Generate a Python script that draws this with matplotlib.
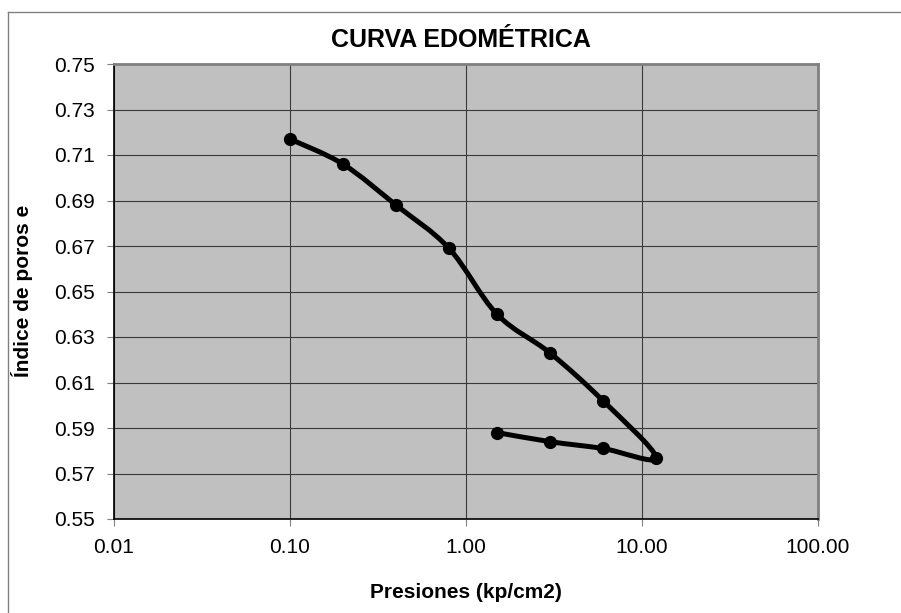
import matplotlib
matplotlib.use('Agg')
import matplotlib.pyplot as plt
from matplotlib.path import Path
from matplotlib.patches import PathPatch
from matplotlib.lines import Line2D
from matplotlib.ticker import FixedLocator, FuncFormatter
import numpy as np

# ensayo edometrico: carga y descarga
presiones = [0.1, 0.2, 0.4, 0.8, 1.5, 3.0, 6.0, 12.0, 6.0, 3.0, 1.5]
indice_poros = [0.717, 0.706, 0.688, 0.669, 0.640, 0.623, 0.602, 0.577, 0.581, 0.584, 0.588]

x_ticks = [0.01, 0.1, 1, 10, 100]
y_ticks = [0.55, 0.57, 0.59, 0.61, 0.63, 0.65, 0.67, 0.69, 0.71, 0.73, 0.75]

plt.rcParams['font.family'] = ['Liberation Sans', 'DejaVu Sans']


def smooth_path(xs, ys):
    # Excel-like smoothed line: cubic Bezier segments (Catmull-Rom), built in log-x space
    lx = np.log10(xs)
    ys = np.asarray(ys, dtype=float)
    n = len(lx)
    verts = [(xs[0], ys[0])]
    codes = [Path.MOVETO]
    for i in range(n - 1):
        p0 = (lx[max(i - 1, 0)], ys[max(i - 1, 0)])
        p1 = (lx[i], ys[i])
        p2 = (lx[i + 1], ys[i + 1])
        p3 = (lx[min(i + 2, n - 1)], ys[min(i + 2, n - 1)])
        c1 = (p1[0] + (p2[0] - p0[0]) / 6, p1[1] + (p2[1] - p0[1]) / 6)
        c2 = (p2[0] - (p3[0] - p1[0]) / 6, p2[1] - (p3[1] - p1[1]) / 6)
        for c in (c1, c2, p2):
            verts.append((10 ** c[0], c[1]))
            codes.append(Path.CURVE4)
    return Path(verts, codes)


fig = plt.figure(figsize=(9.01, 6.13), dpi=100)
ax = fig.add_axes([114 / 901, 1 - 519 / 613, (818 - 114) / 901, (519 - 64) / 613])
ax.set_facecolor('#c0c0c0')

ax.set_xscale('log')
ax.set_xlim(0.01, 100)
ax.set_ylim(0.55, 0.75)

ax.add_patch(PathPatch(smooth_path(presiones, indice_poros), facecolor='none',
                       edgecolor='black', lw=3.6, zorder=3, joinstyle='round',
                       capstyle='round'))
ax.plot(presiones, indice_poros, linestyle='none', marker='o', markersize=8.5,
        color='black', zorder=4)

ax.xaxis.set_major_locator(FixedLocator(x_ticks))
ax.xaxis.set_minor_locator(FixedLocator([]))
ax.xaxis.set_major_formatter(FuncFormatter(lambda v, p: '{:.2f}'.format(v)))
ax.yaxis.set_major_locator(FixedLocator(y_ticks))
ax.yaxis.set_major_formatter(FuncFormatter(lambda v, p: '{:.2f}'.format(v)))

ax.grid(True, color='#3a3a3a', linewidth=0.8)
ax.set_axisbelow(True)
ax.tick_params(axis='both', which='major', labelsize=15, length=5, width=0.8,
               color='#808080', pad=9)

for side in ['top', 'right']:
    ax.spines[side].set_color('#808080')
    ax.spines[side].set_linewidth(2)
for side in ['left', 'bottom']:
    ax.spines[side].set_color('black')
    ax.spines[side].set_linewidth(1.2)

fig.text(461 / 901, 1 - 40 / 613, 'CURVA EDOMÉTRICA', ha='center', va='center',
         fontsize=18, fontweight='bold')
fig.text(466 / 901, 1 - 593 / 613, 'Presiones (kp/cm2)', ha='center', va='center',
         fontsize=15, fontweight='bold')
fig.text(22 / 901, 1 - 291 / 613, 'Índice de poros e', ha='center', va='center',
         rotation=90, fontsize=15, fontweight='bold')

# marco exterior del grafico
fig.add_artist(Line2D([8 / 901, 8 / 901], [0, 1 - 12 / 613], transform=fig.transFigure,
                      color='#808080', lw=1))
fig.add_artist(Line2D([8 / 901, 1], [1 - 12 / 613, 1 - 12 / 613], transform=fig.transFigure,
                      color='#808080', lw=1))

plt.savefig('out.png', dpi=100)
